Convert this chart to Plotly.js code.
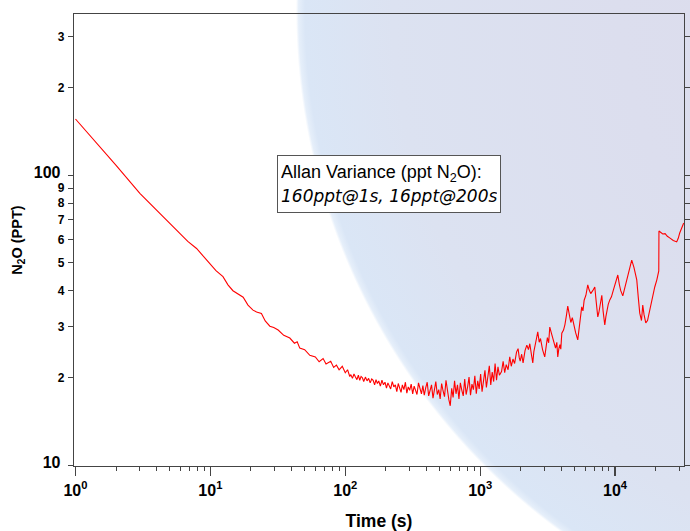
<!DOCTYPE html>
<html><head><meta charset="utf-8">
<script src="https://cdn.plot.ly/plotly-3.0.1.min.js"></script>
<style>
html,body{margin:0;padding:0;background:#fff;}
#wrap{position:relative;width:690px;height:531px;overflow:hidden;
background: radial-gradient(circle 645px at 941px 11px, #dcdbeb 0%, #dcdeee 50%, #dce2f1 85%, #dae6f6 98.6%, #e6effa 99.6%, #ffffff 100%);}
#chart{position:absolute;left:0;top:0;width:690px;height:531px;}
</style></head><body>
<div id="wrap"><div id="chart"></div></div>
<script>
// Averaging time (s)
const tau = [
  1, 1.5, 2, 3, 4, 5, 6, 6.8, 7.9, 9, 10, 11, 12.4, 13.5, 14.7, 16, 17.5, 19, 20.7, 22,
  23.9, 25.5, 27.6, 29.5, 31.8, 35, 38.8, 42, 44, 46, 50, 54.6, 60, 64, 68.5, 72, 78, 82, 86, 90,
  95, 100, 104, 108,
  110, 113, 116, 119, 122, 125, 128, 131, 134, 137,
  141, 145, 149, 153, 157, 161, 165, 169, 173, 177,
  182, 187, 192, 197, 202, 207, 212, 217, 223, 229,
  235, 241, 247, 253, 259, 265, 272, 279, 286, 293,
  300, 308, 316, 324, 332, 340, 349, 358, 367, 376,
  385, 395, 405, 415, 425, 436, 447, 458, 469, 481,
  493, 505, 518, 531, 544, 558, 572, 586, 600, 615,
  630, 646, 662, 679, 696, 713, 731, 749, 768, 787,
  807, 827, 848, 869, 891, 913, 936, 959, 983, 1008,
  1033, 1059, 1085, 1112, 1140, 1169, 1198, 1228, 1259, 1290,
  1322, 1355, 1389,
  1440, 1480, 1520, 1560, 1610, 1657, 1700, 1750, 1800, 1860,
  1910, 1950, 1980, 2030, 2080, 2150, 2218, 2280, 2333, 2400,
  2455, 2500, 2550, 2610, 2673, 2740, 2800, 2900, 3010, 3080,
  3150, 3220, 3281, 3380, 3500, 3620, 3700, 3760, 3830, 3900,
  3960, 4028, 4150, 4250, 4360, 4460, 4580, 4700, 4820, 4950,
  5100, 5290, 5450, 5560, 5660, 5780, 5900, 6080, 6275, 6420,
  6600, 6850, 7075, 7250, 7445, 7580, 7700, 7850, 7975, 8150,
  8390, 8550, 8700, 8900, 9140, 9400, 9700, 10100, 10480, 10750,
  11000, 11410, 11850, 12300, 12800, 13290, 13800, 14200, 14480, 14850,
  15240, 15700, 16040, 16400, 16890, 17400, 18070, 18500, 19000, 19690,
  20400, 21090, 21150, 21500, 22550, 23500, 24400, 25410, 27000, 28630,
  29400, 30140, 31200, 32280
];
// Allan deviation, N2O (ppt)
const n2o = [
  156, 126, 108, 86.5, 75.7, 68.2, 62.7, 59.0, 55.8, 52.0, 49.0, 46.8, 44.6, 41.8, 39.9, 38.9, 37.9, 35.6, 34.2, 33.7,
  33.3, 31.4, 30.1, 29.8, 29.2, 28.0, 27.4, 26.3, 26.6, 25.3, 25.0, 23.9, 23.6, 22.7, 23.3, 22.3, 22.8, 21.7, 22.1, 21.3,
  21.9, 20.8, 21.3, 20.2,
  20.5, 19.9, 20.6, 20.1, 19.7, 20.4, 19.6, 20.2, 20.0, 19.4,
  20.1, 19.5, 19.9, 19.2, 19.8, 19.6, 18.9, 19.7, 19.1, 19.5,
  18.7, 19.6, 18.9, 19.3, 18.4, 19.2, 18.8, 18.3, 19.4, 18.6,
  18.9, 17.9, 19.1, 18.5, 17.8, 18.9, 18.2, 19.3, 17.7, 18.6,
  18.1, 19.0, 17.6, 18.7, 18.0, 17.5, 19.2, 18.3, 17.6, 18.8,
  17.4, 18.5, 19.3, 17.3, 18.1, 18.9, 17.0, 18.6, 19.4, 17.5,
  18.2, 16.9, 19.1, 18.0, 17.2, 19.6, 17.8, 16.8, 16.0, 18.4,
  17.1, 19.5, 17.6, 18.9, 16.9, 19.2, 18.1, 17.3, 19.8, 17.5,
  18.6, 20.1, 17.4, 19.0, 18.2, 20.3, 17.6, 19.5, 18.3, 20.6,
  17.9, 19.8, 21.2, 18.5, 20.0, 22.0, 18.9, 20.9, 19.4, 22.4,
  19.6, 21.8, 20.4,
  21.0, 22.8, 20.8, 22.2, 21.3, 23.6, 21.9, 23.2, 22.4, 24.5,
  25.2, 23.4, 22.8, 24.1, 22.5, 24.8, 25.9, 25.0, 26.2, 24.0,
  22.5, 24.6, 25.5, 27.2, 28.8, 26.5, 27.3, 25.0, 23.6, 26.0,
  27.5, 26.4, 29.9, 28.4, 27.0, 25.3, 26.5, 23.6, 25.2, 26.0,
  25.1, 28.5, 29.2, 30.5, 32.8, 35.3, 33.0, 31.0, 32.2, 30.0,
  28.6, 27.0, 31.0, 33.0, 35.1, 34.0, 37.0, 38.5, 41.8, 40.2,
  39.0, 40.0, 41.1, 36.5, 32.4, 33.5, 35.0, 36.8, 38.5, 34.0,
  30.4, 32.5, 34.0, 35.8, 37.1, 38.0, 40.0, 42.5, 45.2, 42.0,
  40.0, 38.3, 41.0, 44.0, 47.5, 50.9, 48.0, 45.8, 43.5, 38.0,
  33.4, 31.5, 35.6, 33.0, 30.9, 31.5, 34.2, 36.3, 38.5, 41.1,
  43.5, 46.7, 64.1, 63.6, 62.6, 62.8, 61.5, 60.7, 59.5, 58.8,
  60.5, 63.1, 65.8, 68.3
];
const xMajorVals = [1, 10, 100, 1000, 10000];
const xMajorText = ['10<sup>0</sup>', '10<sup>1</sup>', '10<sup>2</sup>', '10<sup>3</sup>', '10<sup>4</sup>'];
const yMajorVals = [10, 100];
const titleX = 'Time (s)';
const titleY = 'N<sub>2</sub>O (PPT)';
const noteText = 'Allan Variance (ppt N<sub>2</sub>O):<br><span style="font-family:DejaVu Sans;font-size:17px"><i>160ppt@1s, 16ppt@200s</i></span>';

const xMinorVals = [];
for (let d = 1; d <= 10000; d *= 10) {
  for (let k = 2; k <= 9; k++) xMinorVals.push(k * d);
}

const axisColor = '#444';
const xRange = [-0.011, 4.511];
const yRange = [0.9966, 2.5552];

const trace = {
  x: tau, y: n2o, type: 'scatter', mode: 'lines',
  line: {color: '#ff0000', width: 1.1},
  hoverinfo: 'x+y'
};

const layout = {
  width: 690, height: 531,
  margin: {l: 74, r: 6, t: 14, b: 65},
  paper_bgcolor: 'rgba(0,0,0,0)', plot_bgcolor: 'rgba(0,0,0,0)',
  showlegend: false,
  font: {family: 'Liberation Sans, Arial, sans-serif', color: '#000'},
  xaxis: {
    type: 'log', range: xRange, showgrid: false, zeroline: false,
    showline: true, linecolor: axisColor, linewidth: 1.3, mirror: true,
    tickmode: 'array', tickvals: xMajorVals, ticktext: xMajorText,
    ticks: 'outside', ticklen: 9, tickwidth: 1.2, tickcolor: axisColor,
    tickfont: {size: 16, weight: 'bold', color: '#000'},
    minor: {tickmode: 'array', tickvals: xMinorVals, ticks: 'outside', ticklen: 4, tickwidth: 1, tickcolor: axisColor, showgrid: false},
    title: {text: titleX, font: {size: 17.5, weight: 'bold', color: '#000'}, standoff: 19}
  },
  yaxis: {
    type: 'log', range: yRange, showgrid: false, zeroline: false,
    showline: true, linecolor: axisColor, linewidth: 1.3, mirror: 'ticks',
    dtick: 'D1', ticks: 'outside', ticklen: 5, tickwidth: 1, tickcolor: axisColor,
    tickfont: {size: 16, weight: 'bold', color: '#000'},
    title: {text: titleY, font: {size: 14.5, weight: 'bold', color: '#000'}, standoff: 7}
  },
  yaxis2: {
    type: 'log', range: yRange, overlaying: 'y', anchor: 'x', side: 'left',
    tickmode: 'array', tickvals: yMajorVals, showticklabels: false,
    ticks: 'outside', ticklen: 9, tickwidth: 1.2, tickcolor: axisColor,
    mirror: 'ticks', showline: false, showgrid: false, zeroline: false
  },
  annotations: [{
    xref: 'paper', yref: 'paper', x: 0.517, y: 0.624, xanchor: 'center', yanchor: 'middle',
    text: noteText, align: 'left', showarrow: false, width: 216, height: 50,
    bgcolor: '#ffffff', bordercolor: '#555', borderwidth: 1, borderpad: 3,
    font: {family: 'Liberation Sans, Arial, sans-serif', size: 18, color: '#000'}
  }]
};

Plotly.newPlot('chart', [trace], layout, {displayModeBar: false, staticPlot: true});
</script>
</body></html>
